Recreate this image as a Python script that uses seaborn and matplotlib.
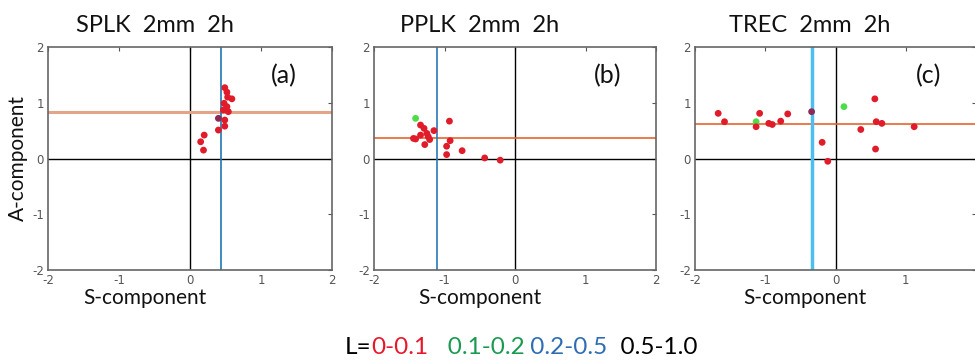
import pandas as pd
import matplotlib
matplotlib.use("Agg")
import matplotlib.pyplot as plt
import seaborn as sns

sns.set_style("white")
plt.rcParams['font.family'] = ['Lato', 'DejaVu Sans']

# ===================== DATA =====================
titles = ["SPLK  2mm  2h", "PPLK  2mm  2h", "TREC  2mm  2h"]
tags = ["(a)", "(b)", "(c)"]

# panel (a)
a_s = [0.15, 0.20, 0.19, 0.40, 0.40, 0.49, 0.52, 0.53, 0.59, 0.48, 0.52, 0.47, 0.54, 0.49, 0.49]
a_a = [0.30, 0.42, 0.15, 0.72, 0.51, 1.27, 1.19, 1.10, 1.07, 0.99, 0.93, 0.87, 0.84, 0.69, 0.58]
a_l = ["r", "r", "r", "p", "r", "r", "r", "r", "r", "r", "r", "r", "r", "r", "r"]
a_mean = (0.44, 0.84)

# panel (b)
b_s = [-1.41, -1.44, -1.41, -1.34, -1.34, -1.29, -1.28, -1.25, -1.23, -1.21, -1.15,
       -0.93, -0.92, -0.97, -0.97, -0.75, -0.43, -0.21]
b_a = [0.72, 0.36, 0.35, 0.60, 0.42, 0.54, 0.25, 0.45, 0.39, 0.34, 0.50,
       0.67, 0.32, 0.22, 0.07, 0.14, 0.01, -0.03]
b_l = ["g"] + ["r"] * 17
b_mean = (-1.10, 0.37)

# panel (c)
c_s = [-1.67, -1.58, -1.13, -1.13, -1.08, -0.95, -0.90, -0.78, -0.68, -0.34,
       -0.19, -0.11, 0.12, 0.36, 0.56, 0.58, 0.66, 0.57, 1.12]
c_a = [0.81, 0.66, 0.66, 0.57, 0.81, 0.63, 0.61, 0.67, 0.80, 0.84,
       0.29, -0.05, 0.93, 0.52, 1.07, 0.66, 0.63, 0.17, 0.57]
c_l = ["r", "r", "g", "r", "r", "r", "r", "r", "r", "p",
       "r", "r", "g", "r", "r", "r", "r", "r", "r"]
c_mean = (-0.34, 0.61)

ticks = [-2, -1, 0, 1, 2]
xtick_labels = [["-2", "-1", "0", "1", "2"],
                ["-2", "-1", "0", "1", "2"],
                ["-2", "-1", "0", "1", ""]]   # last one falls off the right edge in the original

legend_parts = ["L=", "0-0.1", "   0.1-0.2", " 0.2-0.5", "  0.5-1.0"]
legend_colors = ["black", "#e8182a", "#1a9a50", "#2e6db4", "black"]

point_pal = {"r": "#e01b2a", "g": "#4fdc4a", "p": "#8a2a55"}

panels = [
    (a_s, a_a, a_l, a_mean, "#e3a487", 2.2, "#1f77b4", 1.2),
    (b_s, b_a, b_l, b_mean, "#e8632c", 1.2, "#2a79b9", 1.2),
    (c_s, c_a, c_l, c_mean, "#e8632c", 1.2, "#4dbeee", 2.5),
]

# ===================== PLOT =====================
fig = plt.figure(figsize=(9.75, 3.6), dpi=100)
W, H = 975, 360
boxes = [(48, 284), (374, 282), (695, 281)]
title_x = [155, 480, 810]
xlab_x = [145, 480, 805]

for i, (s, a, lab, mean, hcol, hlw, vcol, vlw) in enumerate(panels):
    left, width = boxes[i]
    ax = fig.add_axes([left / W, 90 / H, width / W, 223 / H])
    df = pd.DataFrame({"S": s, "A": a, "L": lab})
    ax.axhline(0, color="black", lw=1, zorder=1)
    ax.axvline(0, color="black", lw=1, zorder=1)
    ax.axhline(mean[1], color=hcol, lw=hlw, zorder=1)
    ax.axvline(mean[0], color=vcol, lw=vlw, zorder=1)
    sns.scatterplot(data=df, x="S", y="A", hue="L", palette=point_pal, s=24,
                    edgecolor="none", legend=False, ax=ax, zorder=3)
    ax.set_xlim(-2, 2)
    ax.set_ylim(-2, 2)
    ax.set_xticks(ticks)
    ax.set_yticks(ticks)
    ax.set_xlabel("")
    ax.set_ylabel("")
    ax.tick_params(direction="in", length=3, width=0.8, top=True, right=True,
                   labelsize=8.5, labelcolor="#555555", color="#555555", pad=3)
    ax.set_xticklabels(xtick_labels[i], family=["DejaVu Sans"])
    ax.set_yticklabels([str(t) for t in ticks], family=["DejaVu Sans"])
    for sp in ax.spines.values():
        sp.set_color("#666666")
        sp.set_linewidth(1.2)
    ax.text(0.83, 0.87, tags[i], transform=ax.transAxes, fontsize=18,
            ha="center", va="center", color="#111111")
    fig.text(title_x[i] / W, 1 - 25 / H, titles[i], fontsize=17,
             ha="center", va="center", color="#111111")
    fig.text(xlab_x[i] / W, 1 - 298 / H, "S-component", fontsize=15,
             ha="center", va="center", color="#111111")

fig.text(18 / W, 1 - 158 / H, "A-component", fontsize=15, rotation=90,
         ha="center", va="center", color="#111111")

# legend line at the bottom, drawn piece by piece
fig.canvas.draw()
renderer = fig.canvas.get_renderer()
x = 345
for part, col in zip(legend_parts, legend_colors):
    t = fig.text(x / W, 1 - 347 / H, part, fontsize=17.5, color=col,
                 ha="left", va="center")
    x += t.get_window_extent(renderer).width

fig.savefig("out.png", dpi=100)
